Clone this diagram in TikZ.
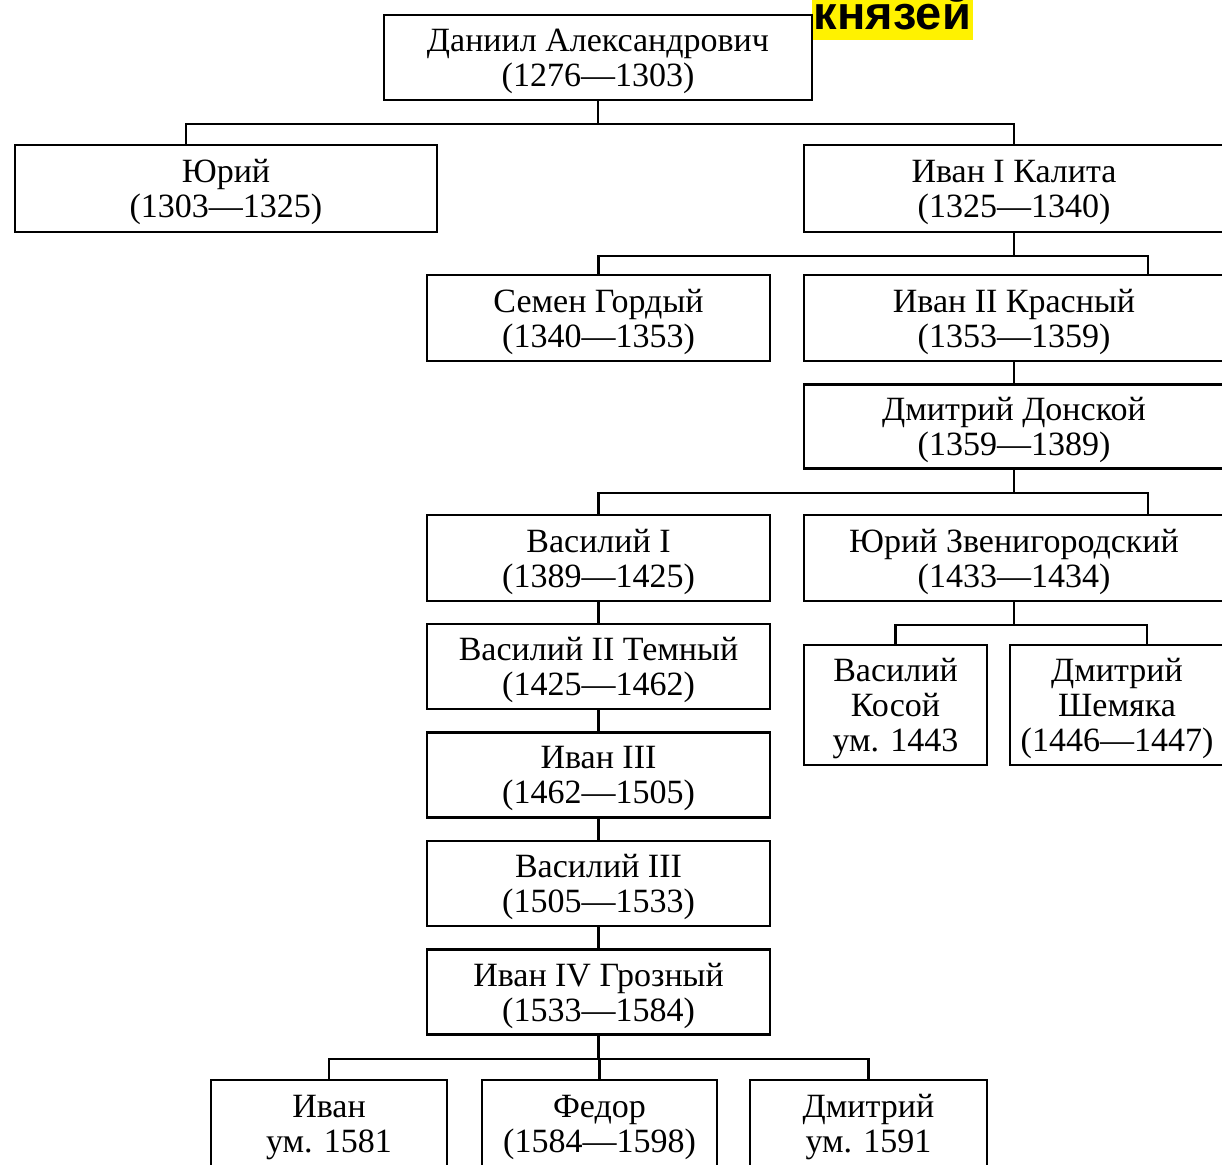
\documentclass[tikz,border=0pt]{standalone}
\usepackage{fontspec}
\setmainfont{Liberation Serif}
\newfontfamily\headfont{Liberation Sans}
\usetikzlibrary{positioning}
\usetikzlibrary{calc}

\begin{document}
\begin{tikzpicture}[x=0.5pt,y=-0.5pt,node distance=54.25pt,
                    main node/.style={rectangle,draw,line width=1.3pt,inner sep=0pt,align=center,
                                      minimum width=171.5pt,minimum height=42.5pt,text depth=0pt,
                                      font=\fontsize{17}{17.5}\selectfont},
                    tree/.style={to path={-- ++(0,23) -| (\tikztotarget)}}]

  \useasboundingbox (0,0) rectangle (1222,1165);

  \node[fill=yellow,anchor=south,inner sep=0pt,minimum width=80.5pt,text height=30pt,text depth=5.5pt,
        font=\headfont\bfseries\fontsize{23.5}{23.5}\selectfont](0) at (892.5,40.5) {князей};

  \node[main node,minimum width=214pt](1) at (598,57.5) {Даниил Александрович\\(1276—1303)};
  \node[main node,minimum width=211pt,minimum height=43.5pt](2) at (226,188.5) {Юрий\\(1303—1325)};
  \node[main node,minimum width=210pt,minimum height=43.5pt](3) at (1014,188.5) {Иван I Калита\\(1325—1340)};
  \node[main node,minimum height=43pt](4) at (598.5,318) {Семен Гордый\\(1340—1353)};
  \node[main node,minimum width=210pt,minimum height=43pt](5) at (1014,318) {Иван II Красный\\(1353—1359)};
  \node[main node,minimum width=210pt,minimum height=42pt](6) [below of=5] {Дмитрий Донской\\(1359—1389)};
  \node[main node,minimum height=43pt](7) at (598.5,558) {Василий I\\(1389—1425)};
  \node[main node,minimum width=210pt,minimum height=43pt](8) at (1014,558) {Юрий Звенигородский\\(1433—1434)};
  \node[main node,minimum width=91.5pt,minimum height=60pt](9) at (895.5,705) {Василий\\Косой\\ум. 1443};
  \node[main node,minimum width=107pt,minimum height=60pt](10) at (1117,705) {Дмитрий\\Шемяка\\(1446—1447)};
  \node[main node](11) [below of=7] {Василий II Темный\\(1425—1462)};
  \node[main node](12) [below of=11] {Иван III\\(1462—1505)};
  \node[main node](13) [below of=12] {Василий III\\(1505—1533)};
  \node[main node](14) [below of=13] {Иван IV Грозный\\(1533—1584)};
  \node[main node,minimum width=118pt,minimum height=43.5pt](15) at (329,1123.5) {Иван\\ум. 1581};
  \node[main node,minimum width=117.5pt,minimum height=43.5pt](16) at (599.5,1123.5) {Федор\\(1584—1598)};
  \node[main node,minimum width=118.5pt,minimum height=43.5pt](17) at (868.5,1123.5) {Дмитрий\\ум. 1591};

  \path[every edge/.append style={line width=1.1pt}]
    (1.south) edge[tree] ($(2.north west)!0.405!(2.north east)$)
    (1.south) edge[tree] (3.north)
    (3.south) edge[tree] (4.north)
    (3.south) edge[tree] ($(5.north west)!0.817!(5.north east)$)
    (5.south) edge (6.north)
    (6.south) edge[tree] (7.north)
    (6.south) edge[tree] ($(8.north west)!0.817!(8.north east)$)
    (8.south) edge[tree] (9.north)
    (8.south) edge[tree] ($(10.north west)!0.64!(10.north east)$)
    (7.south) edge (11.north)
    (11.south) edge (12.north)
    (12.south) edge (13.north)
    (13.south) edge (14.north)
    (14.south) edge[tree] (15.north)
    (14.south) edge[tree] (16.north)
    (14.south) edge[tree] (17.north);
\end{tikzpicture}
\end{document}
